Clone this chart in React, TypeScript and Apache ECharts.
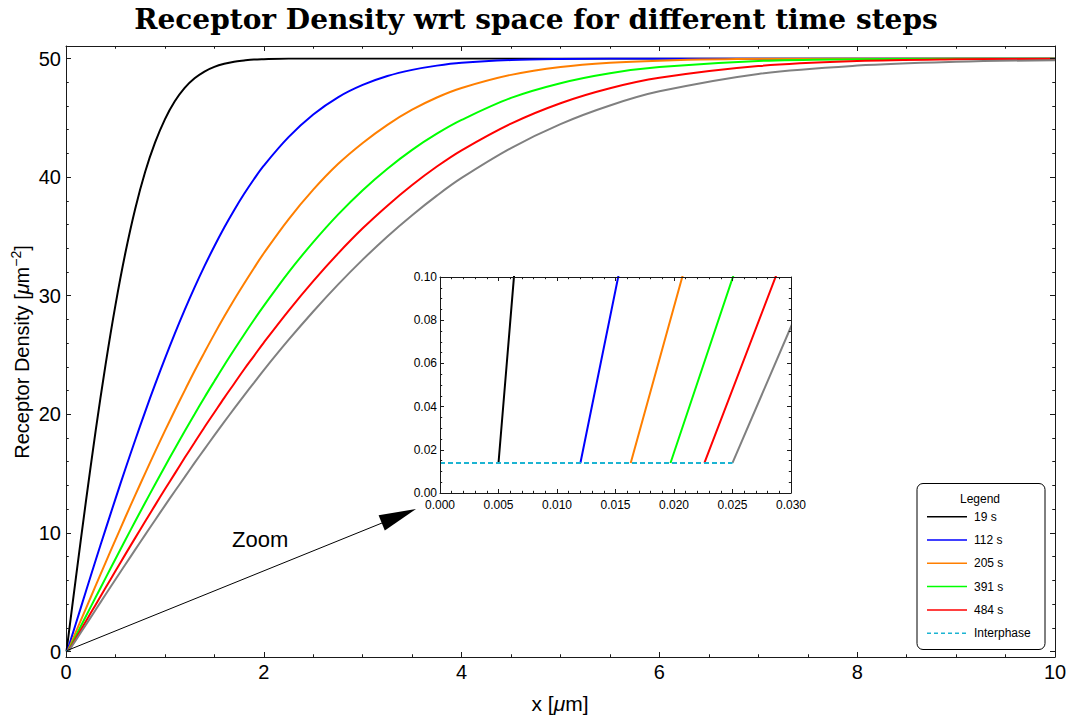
import React, { useEffect, useRef } from "react";
import * as echarts from "echarts";

// ---------- data ----------
const xGrid = [
  0.1, 0.2, 0.3, 0.4, 0.5, 0.6, 0.7, 0.8, 0.9, 1.0,
  1.1, 1.2, 1.3, 1.4, 1.5, 1.6, 1.7, 1.8, 1.9, 2.0,
  2.25, 2.5, 2.75, 3.0, 3.25, 3.5, 3.75, 4.0, 4.5, 5.0, 5.5, 6.0, 7.0, 8.0, 9.0, 10.0,
];

const black = [
  6.21, 12.57, 18.62, 24.19, 29.21, 33.6, 37.34, 40.43, 42.9, 44.87,
  46.39, 47.52, 48.33, 48.9, 49.29, 49.55, 49.73, 49.83, 49.91, 49.94,
  49.99, 50, 50, 50, 50, 50, 50, 50, 50, 50, 50, 50, 50, 50, 50, 50,
];
const blue = [
  2.36, 5.04, 7.69, 10.3, 12.87, 15.39, 17.83, 20.21, 22.5, 24.7,
  26.8, 28.8, 30.7, 32.49, 34.17, 35.75, 37.21, 38.57, 39.82, 40.97,
  43.37, 45.28, 46.73, 47.77, 48.52, 49.04, 49.4, 49.64, 49.87, 49.96, 49.99, 50, 50, 50, 50, 50,
];
const orange = [
  1.65, 3.6, 5.55, 7.5, 9.41, 11.32, 13.18, 15.02, 16.83, 18.6,
  20.32, 22.0, 23.65, 25.22, 26.76, 28.24, 29.66, 31.01, 32.32, 33.58,
  36.44, 38.94, 41.1, 42.88, 44.41, 45.68, 46.71, 47.51, 48.62, 49.29, 49.65, 49.82, 49.97, 49.99, 50, 50,
];
const green = [
  1.31, 2.95, 4.57, 6.19, 7.8, 9.4, 10.98, 12.54, 14.08, 15.6,
  17.1, 18.57, 20.0, 21.42, 22.79, 24.14, 25.44, 26.71, 27.95, 29.14,
  31.97, 34.52, 36.84, 38.9, 40.71, 42.3, 43.66, 44.82, 46.68, 47.92, 48.76, 49.28, 49.79, 49.94, 49.99, 50,
];
const red = [
  1.11, 2.53, 3.95, 5.37, 6.78, 8.19, 9.58, 10.96, 12.32, 13.68,
  15.0, 16.33, 17.62, 18.91, 20.15, 21.39, 22.58, 23.78, 24.91, 26.05,
  28.73, 31.23, 33.55, 35.68, 37.59, 39.33, 40.89, 42.26, 44.51, 46.23, 47.49, 48.37, 49.36, 49.78, 49.93, 49.98,
];
const gray = [
  0.96, 2.24, 3.52, 4.8, 6.07, 7.33, 8.59, 9.83, 11.07, 12.3,
  13.51, 14.7, 15.9, 17.07, 18.22, 19.36, 20.48, 21.58, 22.65, 23.73,
  26.27, 28.67, 30.93, 33.04, 35.0, 36.79, 38.44, 39.93, 42.45, 44.47, 46.04, 47.23, 48.7, 49.4, 49.72, 49.86,
];

// x where each curve leaves the interphase level
const startX = [0.005, 0.012, 0.0163, 0.0197, 0.0226, 0.025];
const interphaseLevel = 0.0139;
const interphaseX = [0, 0.025];

const seriesNames = ["19 s", "112 s", "205 s", "391 s", "484 s", "(unlabelled)"];
const seriesColors = ["#000000", "#0000ff", "#ff7f00", "#00ff00", "#ff0000", "#808080"];
const curves = [black, blue, orange, green, red, gray];
const legendNames = ["19 s", "112 s", "205 s", "391 s", "484 s", "Interphase"];
const interphaseColor = "#1cb4d2";

const mainXTicks = { min: 0, max: 10, interval: 2 };
const mainYTicks = { min: 0, max: 50, interval: 10 };
const insetXTicks = { min: 0, max: 0.03, interval: 0.005 };
const insetYTicks = { min: 0, max: 0.1, interval: 0.02 };

const SANS = "'Liberation Sans', Arial, sans-serif";
const FRAME = "#1a1a1a";

function buildOption() {
  const lineStyle = { color: FRAME, width: 1 };
  const tickAxis = (
    extra: any,
    showLine: boolean,
    label: boolean,
    fontSize: number,
    minorSplit: number,
    tickLen: number,
    margin: number,
    fmt?: (v: number) => string
  ) => ({
    type: "value",
    z: 6,
    ...extra,
    axisLine: { show: showLine, onZero: false, lineStyle },
    axisTick: { show: true, inside: true, length: tickLen, lineStyle },
    minorTick: { show: true, splitNumber: minorSplit, length: tickLen * 0.55, lineStyle },
    splitLine: { show: false },
    minorSplitLine: { show: false },
    axisLabel: {
      show: label,
      fontSize,
      color: "#000",
      fontFamily: SANS,
      margin,
      formatter: fmt,
    },
  });

  const xAxis = [
    tickAxis({ gridIndex: 0, position: "bottom", ...mainXTicks }, true, true, 20, 4, 5, 5),
    tickAxis({ gridIndex: 0, position: "top", ...mainXTicks }, true, false, 20, 4, 5, 5),
    { type: "value", gridIndex: 1, min: 0, max: 10, show: false },
    tickAxis({ gridIndex: 2, position: "bottom", ...insetXTicks }, true, true, 12, 5, 4, 6, (v: number) => v.toFixed(3)),
    tickAxis({ gridIndex: 2, position: "top", ...insetXTicks }, true, false, 12, 5, 4, 4),
  ];
  const frameY = (pos: string) => ({
    type: "value",
    gridIndex: 0,
    position: pos,
    min: 0,
    max: 1,
    axisLine: { show: true, onZero: false, lineStyle },
    axisTick: { show: false },
    axisLabel: { show: false },
    splitLine: { show: false },
  });
  const yAxis = [
    frameY("left"),
    frameY("right"),
    tickAxis({ gridIndex: 1, position: "left", ...mainYTicks }, false, true, 20, 5, 5, 5),
    tickAxis({ gridIndex: 1, position: "right", ...mainYTicks }, false, false, 20, 5, 5, 5),
    tickAxis({ gridIndex: 2, position: "left", ...insetYTicks }, true, true, 12, 4, 4, 3, (v: number) => v.toFixed(2)),
    tickAxis({ gridIndex: 2, position: "right", ...insetYTicks }, true, false, 12, 4, 4, 3),
  ];

  const dataFor = (i: number) => [[startX[i], interphaseLevel], ...xGrid.map((x, j) => [x, curves[i][j]])];
  const interphaseData = interphaseX.map((x) => [x, interphaseLevel]);

  const series: any[] = [];
  curves.forEach((_, i) => {
    series.push({
      name: seriesNames[i],
      type: "line",
      xAxisIndex: 2,
      yAxisIndex: 2,
      data: dataFor(i),
      symbol: "none",
      smooth: 0.35,
      clip: true,
      lineStyle: { color: seriesColors[i], width: 2 },
      z: 3,
    });
    series.push({
      name: seriesNames[i],
      type: "line",
      xAxisIndex: 3,
      yAxisIndex: 4,
      data: dataFor(i),
      symbol: "none",
      smooth: false,
      clip: true,
      lineStyle: { color: seriesColors[i], width: 2 },
      z: 4,
    });
  });
  series.push({
    name: "Interphase",
    type: "line",
    xAxisIndex: 2,
    yAxisIndex: 2,
    data: interphaseData,
    symbol: "none",
    lineStyle: { color: interphaseColor, width: 2, type: [5, 3] },
    z: 3,
  });
  series.push({
    name: "Interphase",
    type: "line",
    xAxisIndex: 3,
    yAxisIndex: 4,
    data: interphaseData,
    symbol: "none",
    lineStyle: { color: interphaseColor, width: 2, type: [5, 3] },
    z: 5,
  });

  // legend (drawn as graphic, with a title like the reference)
  const legendTop = 516.7;
  const legendStep = 23.3;
  const legendColors = [...seriesColors.slice(0, 5), interphaseColor];
  const legendChildren: any[] = [
    {
      type: "rect",
      shape: { x: 917, y: 483.5, width: 128, height: 166, r: 6 },
      style: { fill: "#fff", stroke: "#000", lineWidth: 1 },
    },
    {
      type: "text",
      x: 980,
      y: 499,
      style: { text: "Legend", fill: "#000", font: `12px ${SANS}`, align: "center", verticalAlign: "middle" },
    },
  ];
  legendNames.forEach((n, i) => {
    const y = legendTop + legendStep * i;
    legendChildren.push({
      type: "line",
      shape: { x1: 927, y1: y, x2: 967, y2: y },
      style: { stroke: legendColors[i], lineWidth: 1.5, lineDash: i === 5 ? [4, 3] : null },
    });
    legendChildren.push({
      type: "text",
      x: 974,
      y,
      style: { text: n, fill: "#000", font: `12px ${SANS}`, align: "left", verticalAlign: "middle" },
    });
  });

  const graphic: any[] = [
    {
      type: "text",
      x: 536,
      y: 19,
      z: 10,
      style: {
        text: "Receptor Density wrt space for different time steps",
        fill: "#000",
        font: `bold 28px 'DejaVu Serif', 'Liberation Serif', serif`,
        align: "center",
        verticalAlign: "middle",
      },
    },
    {
      type: "text",
      x: 560,
      y: 703,
      z: 10,
      style: {
        text: "x [{it|μ}m]",
        fill: "#000",
        font: `21px ${SANS}`,
        align: "center",
        verticalAlign: "middle",
        rich: { it: { fontStyle: "italic", fontSize: 21, fontFamily: SANS, fill: "#000" } },
      },
    },
    {
      type: "text",
      x: 22,
      y: 352,
      rotation: Math.PI / 2,
      z: 10,
      style: {
        text: "Receptor Density [{it|μ}m{sup|−2}]",
        fill: "#000",
        font: `20px ${SANS}`,
        align: "center",
        verticalAlign: "middle",
        lineHeight: 26,
        rich: {
          it: { fontStyle: "italic", fontSize: 20, fontFamily: SANS, fill: "#000", lineHeight: 26 },
          sup: { fontSize: 14, fontFamily: SANS, fill: "#000", verticalAlign: "top", lineHeight: 16 },
        },
      },
    },
    {
      type: "text",
      x: 232,
      y: 539,
      z: 10,
      style: { text: "Zoom", fill: "#000", font: `22px ${SANS}`, align: "left", verticalAlign: "middle" },
    },
    {
      type: "line",
      z: 10,
      shape: { x1: 66.7, y1: 650.7, x2: 382, y2: 523 },
      style: { stroke: "#000", lineWidth: 1 },
    },
    {
      type: "polygon",
      z: 10,
      shape: { points: [[416, 509], [384.8, 530.6], [378.6, 515.2]] },
      style: { fill: "#000" },
    },
    { type: "group", z: 20, children: legendChildren },
  ];

  return {
    animation: false,
    backgroundColor: "#fff",
    textStyle: { fontFamily: SANS },
    grid: [
      { left: 66, right: 18, top: 46, bottom: 61, containLabel: false, outerBoundsMode: "none" },
      { left: 66, right: 18, top: 58.5, bottom: 66.5, containLabel: false, outerBoundsMode: "none" },
      {
        left: 440,
        right: 282,
        top: 277,
        bottom: 225,
        show: true,
        backgroundColor: "#fff",
        borderWidth: 0,
        containLabel: false,
        outerBoundsMode: "none",
      },
    ],
    xAxis,
    yAxis,
    series,
    graphic,
  };
}

export default function App() {
  const ref = useRef<HTMLDivElement>(null);
  useEffect(() => {
    const chart = echarts.init(ref.current!, null, { renderer: "svg" });
    chart.setOption(buildOption() as any);
    return () => chart.dispose();
  }, []);
  return (
    <div
      ref={ref}
      style={{ position: "absolute", left: 0, top: 0, width: 1073, height: 718, background: "#fff" }}
    />
  );
}
